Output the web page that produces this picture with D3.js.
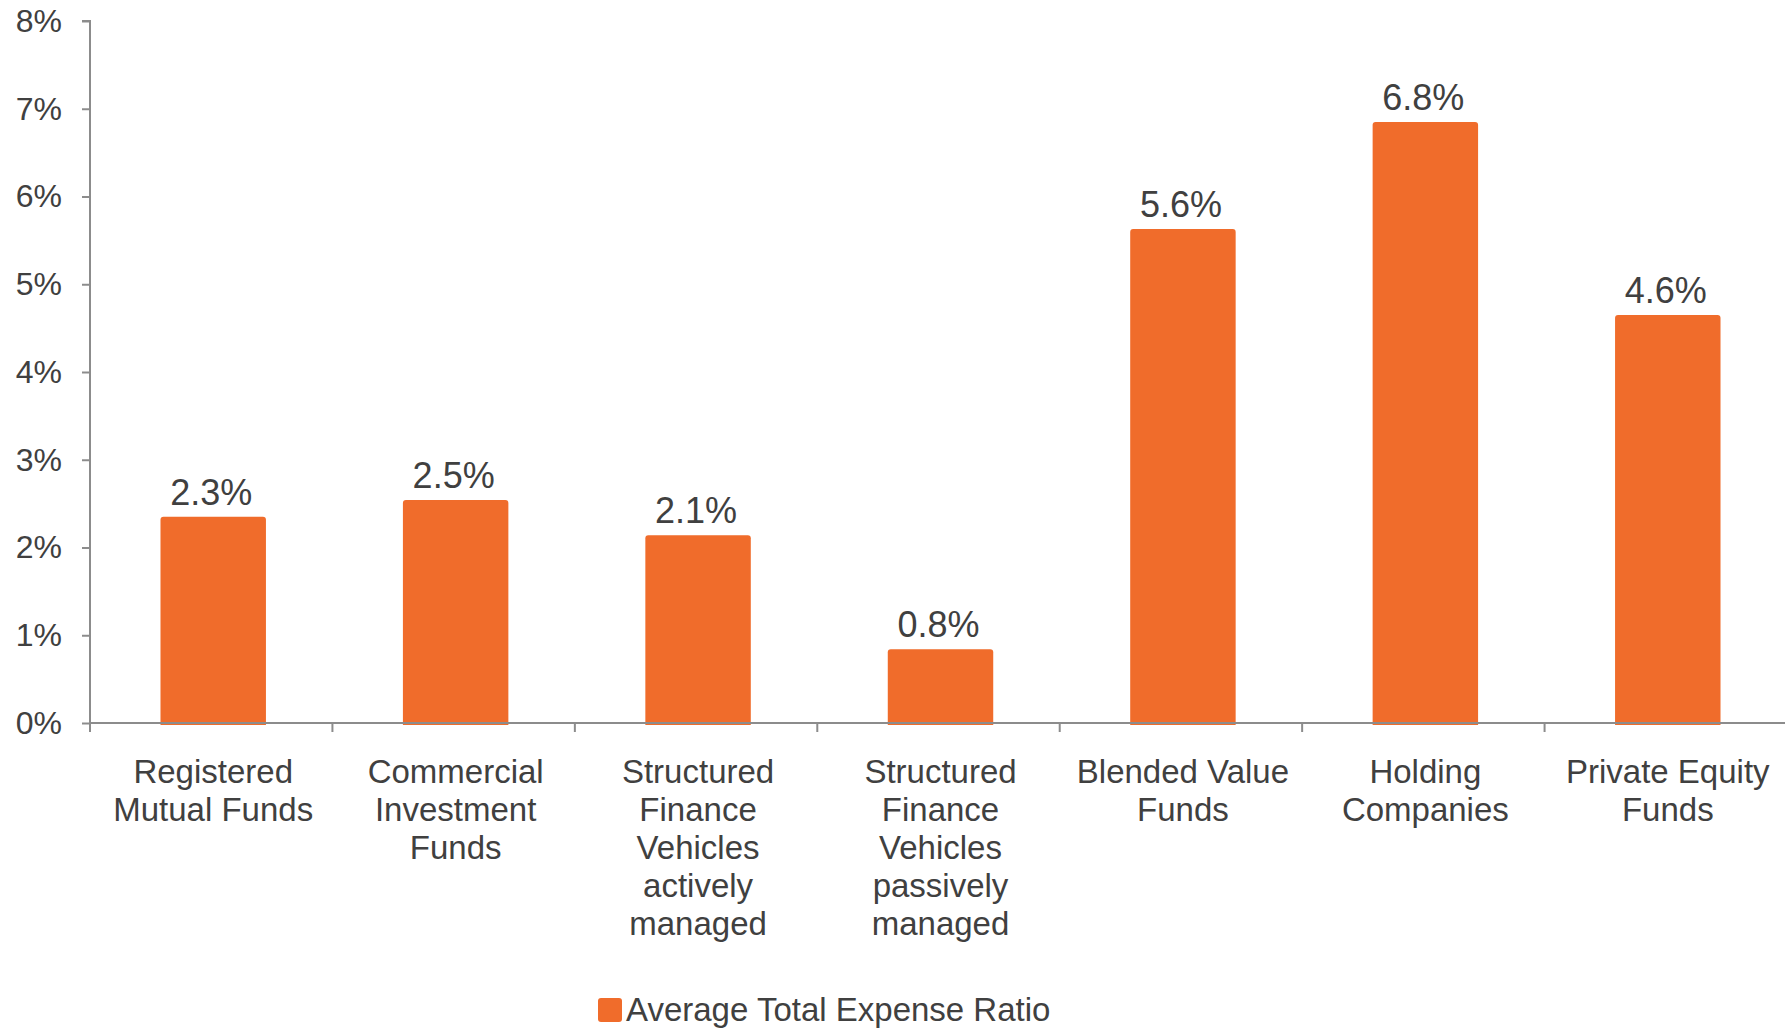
<!DOCTYPE html>
<html>
<head>
<meta charset="utf-8">
<script src="https://cdn.jsdelivr.net/npm/d3@7"></script>
<style>
  html, body { margin: 0; padding: 0; background: #fff; }
  svg { display: block; font-family: "Liberation Sans", Arial, sans-serif; }
</style>
</head>
<body>
<svg id="chart" width="1785" height="1029"></svg>
<script>
const categories = [
  ["Registered", "Mutual Funds"],
  ["Commercial", "Investment", "Funds"],
  ["Structured", "Finance", "Vehicles", "actively", "managed"],
  ["Structured", "Finance", "Vehicles", "passively", "managed"],
  ["Blended Value", "Funds"],
  ["Holding", "Companies"],
  ["Private Equity", "Funds"]
];
const values = [2.35, 2.54, 2.14, 0.84, 5.63, 6.85, 4.65];
const valueLabels = ["2.3%", "2.5%", "2.1%", "0.8%", "5.6%", "6.8%", "4.6%"];
const yTicks = [0, 1, 2, 3, 4, 5, 6, 7, 8];
const seriesName = "Average Total Expense Ratio";

(function () {
const barColor = "#F06C2B";
const axisColor = "#8C8C8C";
const textColor = "#404040";

const svg = d3.select("#chart");
const mLeft = 90, mRight = 1787, mTop = 21, mBottom = 723;

const x = d3.scaleBand().domain(d3.range(categories.length)).range([mLeft + 2, mRight + 2]).paddingInner(0.565).paddingOuter(0.2825);
const xb = d3.scaleBand().domain(d3.range(categories.length)).range([mLeft, mRight]).padding(0);
const y = d3.scaleLinear().domain([0, 8]).range([mBottom, mTop]);

// Y axis
const yAxis = d3.axisLeft(y).tickValues(yTicks).tickFormat(d => d + "%").tickSize(8).tickPadding(20);
const gy = svg.append("g").attr("transform", `translate(${mLeft},0)`).call(yAxis);
gy.select(".domain").attr("stroke", axisColor).attr("stroke-width", 2).attr("d", `M-8,${mTop}H0V${mBottom}`);
gy.selectAll(".tick line").attr("stroke", axisColor).attr("stroke-width", 2);
gy.selectAll(".tick text").attr("fill", textColor).attr("font-size", 32).attr("font-family", "Liberation Sans, Arial, sans-serif");

// Bars with rounded top corners
const r = 3;
svg.append("g").selectAll("path").data(values).join("path")
  .attr("fill", barColor)
  .attr("d", (d, i) => {
    const x0 = x(i), w = x.bandwidth(), yt = y(d), yb = mBottom + 2;
    return `M${x0},${yb}V${yt + r}Q${x0},${yt} ${x0 + r},${yt}H${x0 + w - r}Q${x0 + w},${yt} ${x0 + w},${yt + r}V${yb}Z`;
  });

// X axis (category boundaries)
const gx = svg.append("g");
gx.append("line").attr("x1", mLeft).attr("x2", mRight).attr("y1", mBottom).attr("y2", mBottom)
  .attr("stroke", axisColor).attr("stroke-width", 2);
const bounds = d3.range(categories.length + 1).map(i => mLeft + i * xb.bandwidth());
gx.selectAll("line.tk").data(bounds).join("line").attr("class", "tk")
  .attr("x1", d => d).attr("x2", d => d).attr("y1", mBottom).attr("y2", mBottom + 9)
  .attr("stroke", axisColor).attr("stroke-width", 2);

// Category labels
const lab = svg.append("g").selectAll("text").data(categories).join("text")
  .attr("text-anchor", "middle").attr("fill", textColor).attr("font-size", 33)
  .attr("x", (d, i) => x(i) + x.bandwidth() / 2).attr("y", 783);
lab.selectAll("tspan").data(d => d).join("tspan")
  .attr("x", function() { return d3.select(this.parentNode).attr("x"); })
  .attr("dy", (d, j) => j === 0 ? 0 : 38)
  .text(d => d);

// Value labels
svg.append("g").selectAll("text").data(values).join("text")
  .attr("text-anchor", "middle").attr("fill", textColor).attr("font-size", 36)
  .attr("x", (d, i) => x(i) + x.bandwidth() / 2 - 2)
  .attr("y", d => y(d) - 12)
  .text((d, i) => valueLabels[i]);

// Legend
const lg = svg.append("g").attr("transform", "translate(598,998)");
lg.append("rect").attr("width", 24).attr("height", 24).attr("rx", 3).attr("fill", barColor);
lg.append("text").attr("x", 28).attr("y", 23).attr("fill", textColor).attr("font-size", 33).text(seriesName);
})();
</script>
</body>
</html>
